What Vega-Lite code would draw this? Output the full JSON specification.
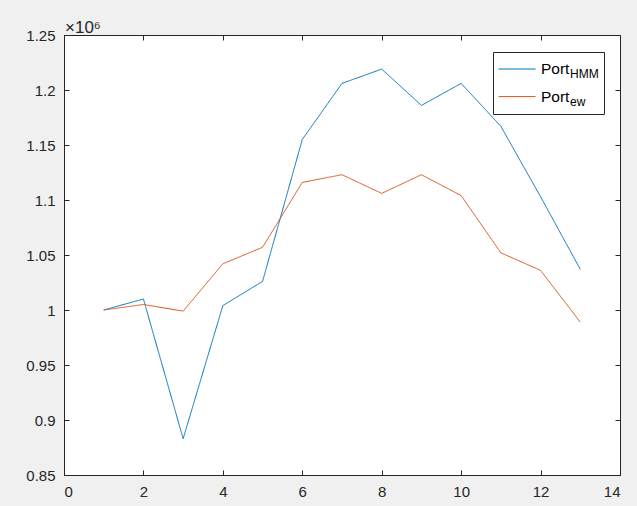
{
  "$schema": "https://vega.github.io/schema/vega-lite/v6.json",
  "width": 556,
  "height": 440,
  "autosize": "none",
  "padding": {"left": 64, "top": 35, "right": 17, "bottom": 31},
  "background": "#f0f0f0",
  "title": {"text": "×10⁶", "anchor": "start", "frame": "group", "offset": 4, "dy": 13, "dx": 1, "font": "Liberation Sans", "fontSize": 17, "fontWeight": "normal", "color": "#262626"},
  "data": {
    "values": [
      {"x": 1, "value": 1.000, "series": "Port_HMM", "sub": "HMM"},
      {"x": 2, "value": 1.010, "series": "Port_HMM", "sub": "HMM"},
      {"x": 3, "value": 0.883, "series": "Port_HMM", "sub": "HMM"},
      {"x": 4, "value": 1.004, "series": "Port_HMM", "sub": "HMM"},
      {"x": 5, "value": 1.026, "series": "Port_HMM", "sub": "HMM"},
      {"x": 6, "value": 1.155, "series": "Port_HMM", "sub": "HMM"},
      {"x": 7, "value": 1.206, "series": "Port_HMM", "sub": "HMM"},
      {"x": 8, "value": 1.219, "series": "Port_HMM", "sub": "HMM"},
      {"x": 9, "value": 1.186, "series": "Port_HMM", "sub": "HMM"},
      {"x": 10, "value": 1.206, "series": "Port_HMM", "sub": "HMM"},
      {"x": 11, "value": 1.167, "series": "Port_HMM", "sub": "HMM"},
      {"x": 12, "value": 1.103, "series": "Port_HMM", "sub": "HMM"},
      {"x": 13, "value": 1.037, "series": "Port_HMM", "sub": "HMM"},
      {"x": 1, "value": 1.000, "series": "Port_ew", "sub": "ew"},
      {"x": 2, "value": 1.005, "series": "Port_ew", "sub": "ew"},
      {"x": 3, "value": 0.999, "series": "Port_ew", "sub": "ew"},
      {"x": 4, "value": 1.042, "series": "Port_ew", "sub": "ew"},
      {"x": 5, "value": 1.057, "series": "Port_ew", "sub": "ew"},
      {"x": 6, "value": 1.116, "series": "Port_ew", "sub": "ew"},
      {"x": 7, "value": 1.123, "series": "Port_ew", "sub": "ew"},
      {"x": 8, "value": 1.106, "series": "Port_ew", "sub": "ew"},
      {"x": 9, "value": 1.123, "series": "Port_ew", "sub": "ew"},
      {"x": 10, "value": 1.104, "series": "Port_ew", "sub": "ew"},
      {"x": 11, "value": 1.052, "series": "Port_ew", "sub": "ew"},
      {"x": 12, "value": 1.036, "series": "Port_ew", "sub": "ew"},
      {"x": 13, "value": 0.989, "series": "Port_ew", "sub": "ew"}
    ]
  },
  "layer": [
    {
      "mark": {"type": "line", "strokeWidth": 1},
      "encoding": {
        "x": {"field": "x", "type": "quantitative", "scale": {"domain": [0, 14], "nice": false, "zero": false},
              "axis": {"values": [0, 2, 4, 6, 8, 10, 12, 14], "format": "d"}},
        "y": {"field": "value", "type": "quantitative", "scale": {"domain": [0.85, 1.25], "nice": false, "zero": false},
              "axis": {"values": [0.85, 0.9, 0.95, 1, 1.05, 1.1, 1.15, 1.2, 1.25], "format": ".3~g"}},
        "color": {"field": "series", "type": "nominal",
                  "scale": {"domain": ["Port_HMM", "Port_ew"], "range": ["#0072BD", "#D95319"]},
                  "legend": {"orient": "none", "legendX": 429, "legendY": 17, "title": null,
                             "labelExpr": "'Port'",
                             "symbolType": "stroke", "symbolSize": 1369, "symbolStrokeWidth": 1,
                             "labelFont": "Liberation Sans", "labelFontSize": 15.5, "labelColor": "#000000",
                             "padding": 5, "strokeColor": null, "fillColor": null,
                             "clipHeight": 24, "rowPadding": 3.6, "labelOffset": 5}},
        "strokeDash": {"field": "sub", "type": "nominal",
                       "scale": {"domain": ["HMM", "ew"], "range": [[1, 0], [1, 0]]},
                       "legend": {"orient": "none", "legendX": 429, "legendY": 17, "title": null,
                                  "symbolType": "stroke", "symbolSize": 1369, "symbolOpacity": 0, "symbolStrokeWidth": 1,
                                  "labelFont": "Liberation Sans", "labelFontSize": 12, "labelColor": "#000000", "labelBaseline": "top",
                                  "padding": 5, "strokeColor": "#262626", "fillColor": null,
                                  "clipHeight": 24, "rowPadding": 3.6, "labelOffset": 34}}
      }
    },
    {
      "mark": {"type": "line", "opacity": 0},
      "encoding": {
        "x": {"field": "x", "type": "quantitative", "axis": {"orient": "top", "labels": false, "values": [0, 2, 4, 6, 8, 10, 12, 14]}},
        "y": {"field": "value", "type": "quantitative", "axis": {"orient": "right", "labels": false, "values": [0.85, 0.9, 0.95, 1, 1.05, 1.1, 1.15, 1.2, 1.25]}},
        "detail": {"field": "series"}
      }
    }
  ],
  "resolve": {"axis": {"x": "independent", "y": "independent"}},
  "config": {
    "view": {"fill": "#ffffff", "stroke": "#262626", "strokeWidth": 1},
    "title": {"fontSize": 17, "font": "Liberation Sans"},
    "axis": {"grid": false, "title": null, "domainColor": "#262626", "domainWidth": 1, "tickColor": "#262626", "tickWidth": 1,
             "tickSize": -5, "labelColor": "#262626", "labelFont": "Liberation Sans", "labelFontSize": 15, "labelPadding": 14}
  }
}
